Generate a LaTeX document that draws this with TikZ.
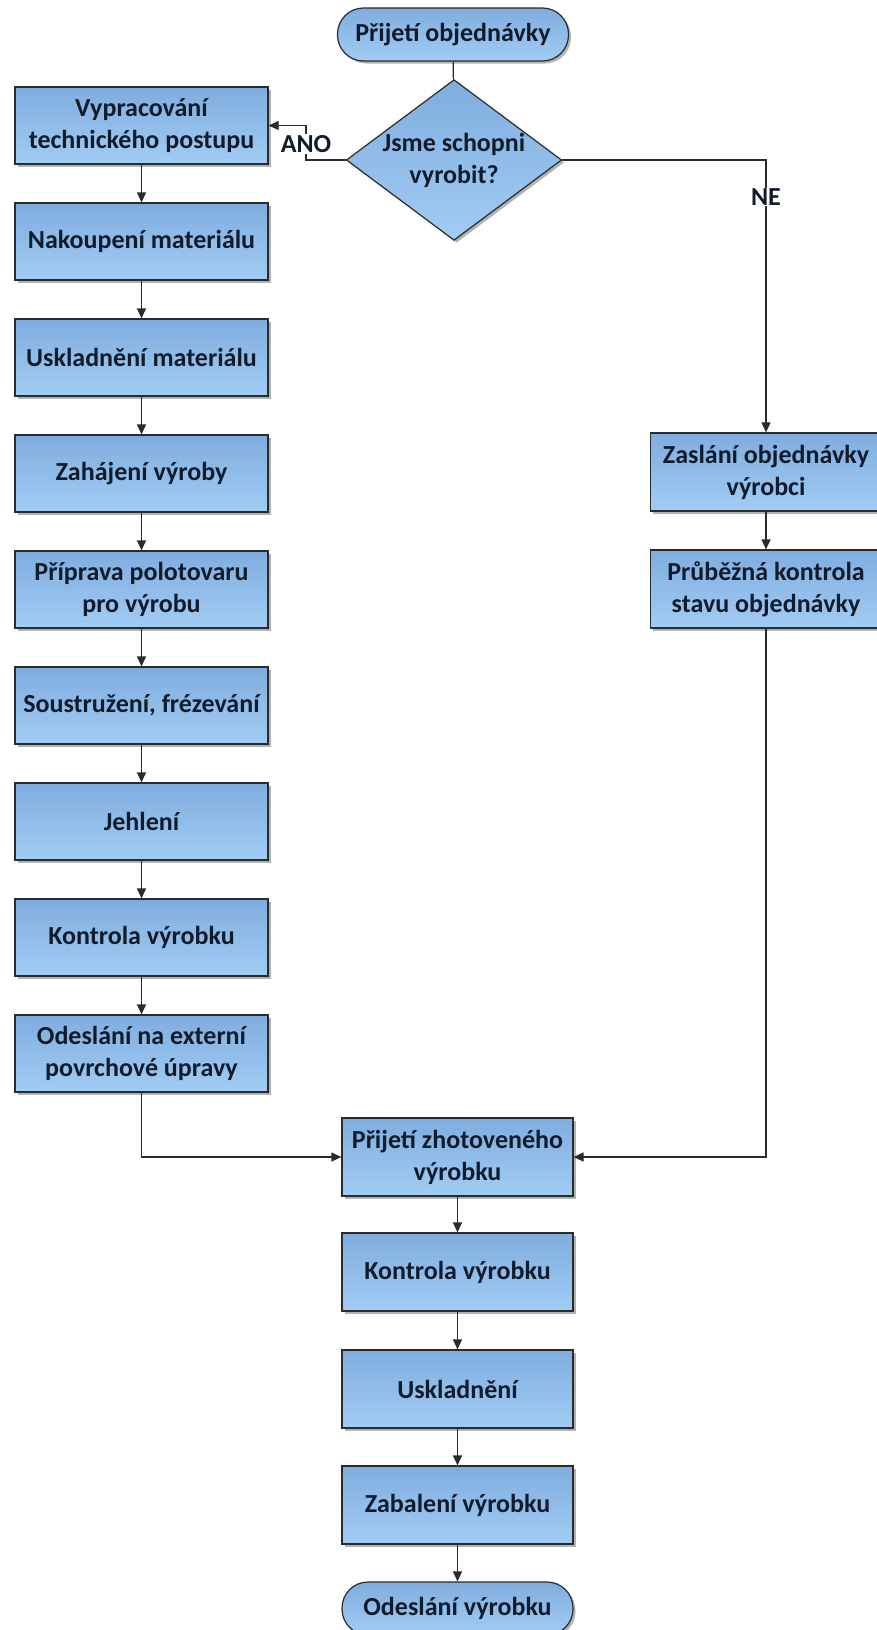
\documentclass[tikz,border=0pt]{standalone}
\usepackage{fontspec}
\setmainfont{Carlito}
\usetikzlibrary{arrows.meta,shapes.geometric,shadows}

\definecolor{boxtop}{HTML}{7FADDE}
\definecolor{boxbot}{HTML}{A1CCF4}
\definecolor{edge}{HTML}{2B2B2B}
\definecolor{ink}{HTML}{101B2B}

\tikzset{
  flowtext/.style={font=\bfseries\fontsize{26}{32}\selectfont, text=ink, align=center},
  stepbox/.style={flowtext, draw=edge, line width=1.2pt, top color=boxtop, bottom color=boxbot,
    drop shadow={shadow xshift=2.5pt, shadow yshift=-2.5pt, fill=black, opacity=.3},
    minimum width=231pt, minimum height=78pt, inner sep=2pt},
  widebox/.style={stepbox, minimum width=253pt, minimum height=77pt},
  termbox/.style={stepbox, rounded corners=26pt, minimum height=53pt},
  decbox/.style={stepbox, diamond, aspect=1.34, inner sep=0pt, minimum width=0pt, minimum height=0pt},
  lbl/.style={flowtext, fill=white, inner sep=1pt},
  conn/.style={line width=1.2pt, draw=edge},
  arr/.style={conn, -{Triangle[length=10pt,width=9pt]}}
}

\begin{document}
\begin{tikzpicture}[x=1pt, y=-1pt]
    \useasboundingbox (0,0) rectangle (876,1630);
    % start and decision
    \node[termbox] (start) at (453,34.5) {Přijetí objednávky};
    \node[decbox] (dec) at (454,160) {Jsme schopni\\vyrobit?};
    % own production (left column)
    \node[widebox] (vypr) at (141.5,125.5) {Vypracování\\technického postupu};
    \node[widebox] (nakup) at (141.5,241.5) {Nakoupení materiálu};
    \node[widebox] (uskmat) at (141.5,357.5) {Uskladnění materiálu};
    \node[widebox] (zahaj) at (141.5,473.5) {Zahájení výroby};
    \node[widebox] (priprava) at (141.5,589.5) {Příprava polotovaru\\pro výrobu};
    \node[widebox] (soustruh) at (141.5,705.5) {Soustružení, frézevání};
    \node[widebox] (jehleni) at (141.5,821.5) {Jehlení};
    \node[widebox] (kontrola) at (141.5,937.5) {Kontrola výrobku};
    \node[widebox] (odesl) at (141.5,1053.5) {Odeslání na externí\\povrchové úpravy};
    % outside maker (right column)
    \node[stepbox] (zaslani) at (766,472) {Zaslání objednávky\\výrobci};
    \node[stepbox] (prubeh) at (766,589) {Průběžná kontrola\\stavu objednávky};
    % finishing (bottom column)
    \node[stepbox] (prijeti) at (457.5,1157) {Přijetí zhotoveného\\výrobku};
    \node[stepbox] (kontrola2) at (457.5,1272) {Kontrola výrobku};
    \node[stepbox] (usklad) at (457.5,1389) {Uskladnění};
    \node[stepbox] (zabal) at (457.5,1505) {Zabalení výrobku};
    \node[termbox] (konec) at (457.5,1608.5) {Odeslání výrobku};

    % connectors
    \draw[conn] (start) -- (dec);
    \coordinate (anoturn) at (306,160);
    \draw[arr] (dec.west) -- (anoturn) |- (vypr.east);
    \node[lbl] (ano) at (306,144) {ANO};
    \draw[arr] (dec.east) -| (zaslani.north);
    \node[lbl] (ne) at (766,197) {NE};
    \foreach \a/\b in {vypr/nakup, nakup/uskmat, uskmat/zahaj, zahaj/priprava,
        priprava/soustruh, soustruh/jehleni, jehleni/kontrola, kontrola/odesl,
        zaslani/prubeh, prijeti/kontrola2, kontrola2/usklad, usklad/zabal, zabal/konec}
        \draw[arr] (\a) -- (\b);
    \draw[arr] (odesl.south) |- (prijeti.west);
    \draw[arr] (prubeh.south) |- (prijeti.east);
\end{tikzpicture}
\end{document}
